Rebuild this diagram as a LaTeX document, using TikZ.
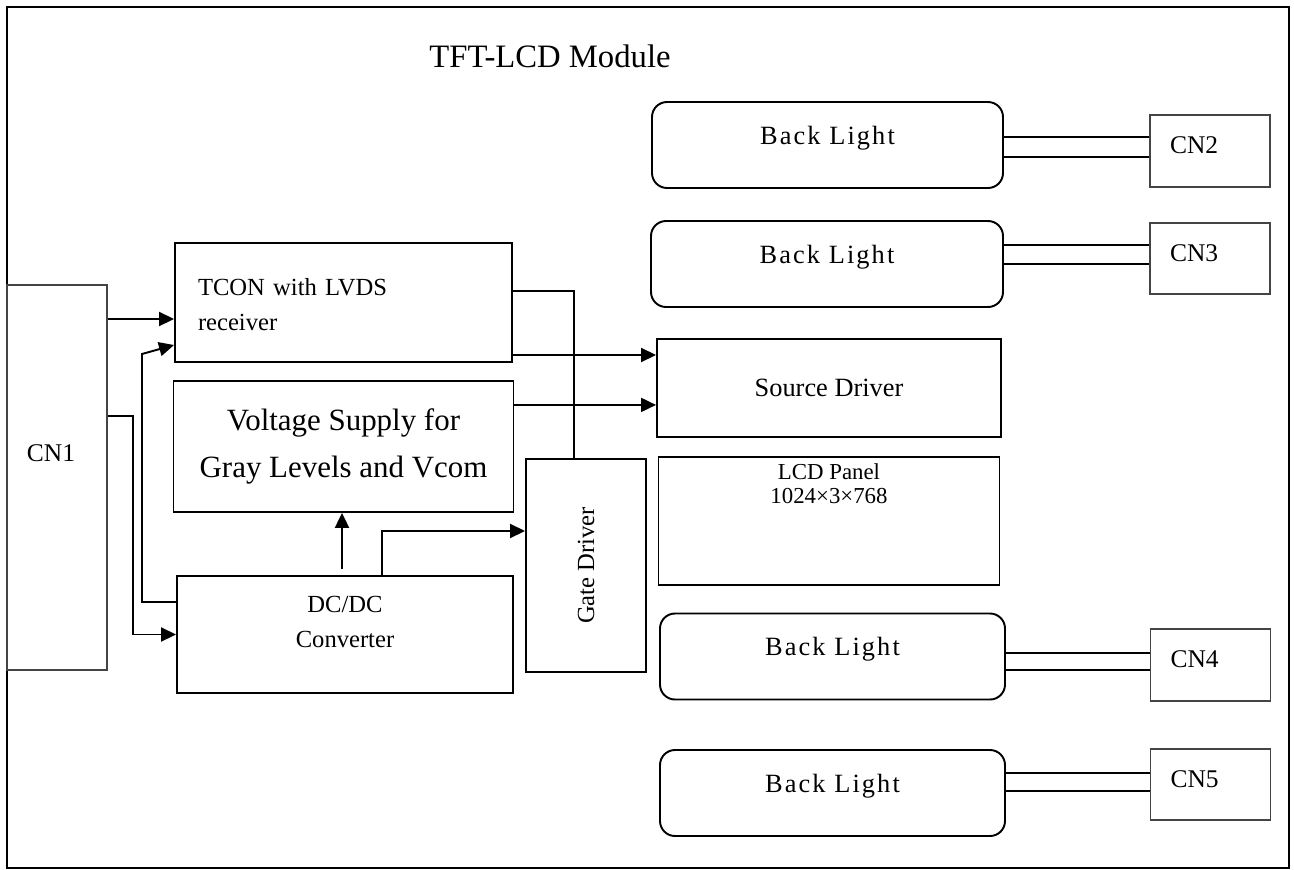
\documentclass[tikz,border=0pt]{standalone}
\usepackage{fontspec}
\setmainfont{Liberation Serif}
\usepackage{tikz}
\usetikzlibrary{positioning,arrows.meta}
\definecolor{cngrey}{RGB}{68,68,68}
\tikzset{
  blk/.style={draw=black, line width=1.1pt, align=center, inner sep=0pt,
              font=\fontsize{14}{20}\selectfont},
  bl/.style={blk, rounded corners=0.3cm, minimum height=1.72cm, text depth=0.40cm,
             font=\fontsize{15}{18}\selectfont\addfontfeature{LetterSpace=8}},
  cn/.style={blk, draw=cngrey, minimum width=2.4cm, minimum height=1.43cm,
             text width=1.6cm, inner xsep=0.4cm, align=left, text depth=0.22cm,
             font=\fontsize{14.5}{17}\selectfont},
  flow/.style={-{Triangle[length=0.3cm,width=0.28cm]}, line width=1.1pt},
  wire/.style={line width=1.1pt},
  ttl/.style={font=\fontsize{18.6}{22}\selectfont, anchor=base},
}
\begin{document}
\begin{tikzpicture}
\useasboundingbox (0,0) rectangle (25.88,-17.4);
\draw[line width=1.3pt] (0.14,-0.14) rectangle (25.78,-17.36);
\node[ttl] (title) at (11.0,-1.34) {TFT-LCD Module};

% back lights and their connectors
\node[bl, minimum width=7.02cm] (bl1) at (16.55,-2.90) {Back Light};
\node[bl, minimum width=7.04cm] (bl2) at (16.54,-5.28) {Back Light};
\node[bl, minimum width=6.90cm] (bl3) at (16.65,-13.13) {Back Light};
\node[bl, minimum width=6.90cm] (bl4) at (16.65,-15.86) {Back Light};
\node[cn] (cn2) at (24.20,-3.02) {CN2};
\node[cn] (cn3) at (24.20,-5.17) {CN3};
\node[cn] (cn4) at (24.21,-13.30) {CN4};
\node[cn] (cn5) at (24.21,-15.69) {CN5};

% panel
\node[blk, minimum width=6.88cm, minimum height=1.96cm,
      font=\fontsize{15}{18}\selectfont] (src) at (16.58,-7.76) {Source Driver};
\node[blk, minimum width=6.82cm, minimum height=2.56cm, text depth=1.49cm,
      font=\fontsize{13}{14}\selectfont, below=0.36cm of src] (lcd) {LCD Panel\\1024×3×768};

% controller board
\node[cn, minimum width=2.0cm, minimum height=7.70cm, text width=1.2cm,
      text depth=0.96cm] (cn1) at (1.14,-9.55) {CN1};
\node[blk, minimum width=6.74cm, minimum height=2.38cm, text width=5.82cm,
      inner xsep=0.46cm, align=left, text depth=0.62cm] (tcon) at (6.87,-6.05) {TCON with LVDS\\receiver};
\node[blk, minimum width=6.80cm, minimum height=2.62cm,
      font=\fontsize{17.6}{26.7}\selectfont, below=0.34cm of tcon] (volt) {Voltage Supply for\\Gray Levels and Vcom};
\node[blk, minimum width=6.72cm, minimum height=2.34cm, text depth=0.52cm] (dcdc) at (6.90,-12.69) {DC/DC\\Converter};
\node[blk, minimum width=2.40cm, minimum height=4.26cm] (gate) at (11.72,-11.31) {\rotatebox{90}{Gate Driver}};

% signals
\coordinate (t1) at ([yshift=-0.33cm]tcon.west);
\draw[flow] (t1 -| cn1.east) -- (t1);
\draw[flow] ([yshift=0.65cm]dcdc.west) -| (2.84,-7.08) -- ([yshift=-0.85cm]tcon.west);
\draw[flow] ([yshift=1.23cm]cn1.east) -| (2.66,-12.69) -- (dcdc.west);
\coordinate (d1) at ([xshift=-0.06cm,yshift=0.12cm]dcdc.north);
\draw[flow] (d1) -- (d1 |- volt.south);
\coordinate (d2) at ([xshift=0.74cm,yshift=-0.04cm]dcdc.north);
\coordinate (g1) at ([yshift=0.69cm]gate.west);
\draw[flow] (d2) |- (g1);
\coordinate (t2) at ([yshift=0.23cm]tcon.east);
\draw[wire] (t2) -| ([xshift=-0.24cm]gate.north);
\coordinate (t3) at ([yshift=-1.05cm]tcon.east);
\draw[flow] (t3) -- (t3 -| src.west);
\coordinate (v1) at ([yshift=0.83cm]volt.east);
\draw[flow] (v1) -- (v1 -| src.west);

% lamp wires
\foreach \b/\c/\u/\l in {bl1/cn2/0.16/-0.24, bl2/cn3/0.38/0, bl3/cn4/0.07/-0.27, bl4/cn5/0.40/0.04}{
  \coordinate (w1) at ([yshift=\u cm]\b.east);
  \coordinate (w2) at ([yshift=\l cm]\b.east);
  \draw[wire] (w1) -- (w1 -| \c.west) (w2) -- (w2 -| \c.west);
}
\end{tikzpicture}
\end{document}
